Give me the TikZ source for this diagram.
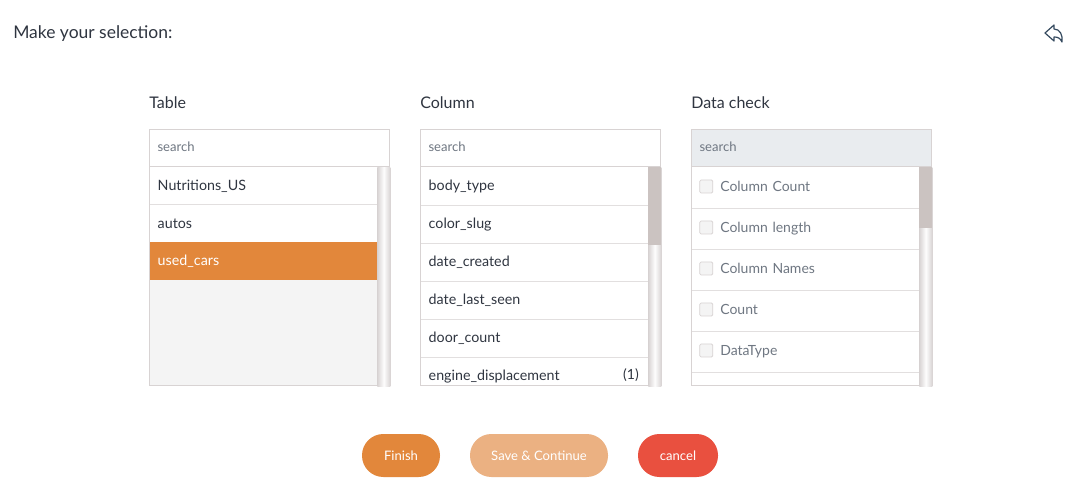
\documentclass[tikz,border=0pt]{standalone}
\usepackage{fontspec}
\setmainfont{Lato}
\usetikzlibrary{positioning}
\usetikzlibrary{shapes}
\definecolor{btnorange}{HTML}{E2873B}
\definecolor{btnpale}{HTML}{EBB182}
\definecolor{btnred}{HTML}{E9503F}
\definecolor{boxline}{HTML}{D8D3D3}
\definecolor{rowline}{HTML}{E2DFDF}
\definecolor{emptygrey}{HTML}{F4F4F4}
\definecolor{disabledgrey}{HTML}{E9ECEF}
\definecolor{thumbgrey}{HTML}{CBC3C1}
\definecolor{inktext}{HTML}{2F3540}
\definecolor{mutetext}{HTML}{6F7782}
\definecolor{iconblue}{HTML}{34495E}
\tikzset{
  heading/.style={anchor=base west, inner sep=0pt, font=\fontsize{12pt}{14pt}\selectfont, text=inktext},
  searchbox/.style={draw=boxline, line width=.75pt, anchor=north west, minimum width=180pt, minimum height=27.75pt, inner sep=0pt, inner xsep=6pt, text width=168pt, align=left, text height=7pt, text depth=2pt, font=\fontsize{9.8pt}{11pt}\selectfont, text=mutetext},
  listbox/.style={draw=boxline, line width=.75pt, anchor=north west, minimum width=180pt, minimum height=164.25pt, inner sep=0pt},
  listrow/.style={anchor=north west, minimum width=170.25pt, minimum height=28.5pt, inner sep=0pt, inner xsep=5.6pt, text width=159.05pt, align=left, text height=8.7pt, text depth=2pt, font=\fontsize{10.7pt}{12pt}\selectfont, text=inktext},
  checkrow/.style={listrow, minimum height=30.75pt, text height=8.5pt, text=mutetext, inner xsep=21pt, text width=128.25pt, font=\fontsize{10.5pt}{12pt}\selectfont},
  checkbox/.style={draw=boxline, fill=emptygrey, rounded corners=1pt, line width=.6pt, minimum size=9.75pt, inner sep=0pt},
  rowsep/.style={draw=rowline, line width=.75pt},
  scrolltrack/.style={anchor=north west, minimum width=9.75pt, minimum height=164.25pt, inner sep=0pt, left color=boxline, right color=boxline, middle color=white!95!boxline},
  scrollthumb/.style={anchor=north west, fill=thumbgrey, minimum width=9.75pt, inner sep=0pt},
  pillbtn/.style={rounded corners=16pt, minimum height=32.25pt, inner sep=0pt, text=white, font=\fontsize{9.8pt}{11pt}\selectfont},
}
\begin{document}
\begin{tikzpicture}[x=.75pt, y=-.75pt]
\useasboundingbox[fill=white] (0,0) rectangle (1073,498);
\node[heading, font=\fontsize{13.1pt}{15pt}\selectfont] (title) at (13,39) {Make your selection:};
% back icon
\draw[iconblue, line width=.9pt, line join=round] (1045,33) -- (1054,25) -- (1054,29) .. controls (1060,29) and (1063,35) .. (1062,42) .. controls (1060,38) and (1058,37) .. (1054,37) -- (1054,41) -- cycle;
% table list
\node[heading] (TableHead) at (149,108.7) {Table};
\node[searchbox] (TableSearch) at (149,129.5) {search};
\node[listbox, fill=emptygrey] (TableList) at (149,166.5) {};
\node[listrow, fill=white, minimum height=28pt] (TableA) at (150,167) {Nutritions\_US};
\node[listrow, fill=white, minimum height=27.75pt] (TableB) at (150,205) {autos};
\node[listrow, fill=btnorange, text=white] (TableC) at (150,242) {used\_cars};
\draw[rowsep] (TableA.south west) -- (TableA.south east);
\node[scrolltrack] (TableTrack) at (377,167) {};
% column list
\node[heading] (ColHead) at (420,108.7) {Column};
\node[searchbox] (ColSearch) at (420,129.5) {search};
\node[listbox, fill=white] (ColList) at (420,166.5) {};
\node[listrow] (ColA) at (421,166.5) {body\_type};
\node[listrow] (ColB) at (421,204.5) {color\_slug};
\node[listrow] (ColC) at (421,242.5) {date\_created};
\node[listrow] (ColD) at (421,280.5) {date\_last\_seen};
\node[listrow] (ColE) at (421,318.5) {door\_count};
\node[listrow] (ColF) at (421,356.5) {engine\_displacement};
\node[anchor=east, inner sep=0pt, font=\fontsize{10.5pt}{12pt}\selectfont, text=inktext] (ColCount) at (639,375) {(1)};
\draw[rowsep] (ColA.south west) -- (ColA.south east);
\draw[rowsep] (ColB.south west) -- (ColB.south east);
\draw[rowsep] (ColC.south west) -- (ColC.south east);
\draw[rowsep] (ColD.south west) -- (ColD.south east);
\draw[rowsep] (ColE.south west) -- (ColE.south east);
\node[scrolltrack] (ColTrack) at (648,167) {};
\node[scrollthumb, minimum height=58.5pt] (ColThumb) at (648,167) {};
% data check list
\node[heading] (CheckHead) at (691,108.7) {Data check};
\node[searchbox, fill=disabledgrey] (CheckSearch) at (691,129.5) {search};
\node[listbox, fill=white] (CheckList) at (691,166.5) {};
\node[checkrow] (CheckA) at (692,166.5) {Column Count};
\node[checkrow] (CheckB) at (692,207.5) {Column length};
\node[checkrow] (CheckC) at (692,248.5) {Column Names};
\node[checkrow] (CheckD) at (692,289.5) {Count};
\node[checkrow] (CheckE) at (692,330.5) {DataType};
\node[checkbox] (BoxA) at (706.3,186.5) {};
\node[checkbox] (BoxB) at (706.3,227.5) {};
\node[checkbox] (BoxC) at (706.3,268.5) {};
\node[checkbox] (BoxD) at (706.3,309.5) {};
\node[checkbox] (BoxE) at (706.3,350.5) {};
\draw[rowsep] (CheckA.south west) -- (CheckA.south east);
\draw[rowsep] (CheckB.south west) -- (CheckB.south east);
\draw[rowsep] (CheckC.south west) -- (CheckC.south east);
\draw[rowsep] (CheckD.south west) -- (CheckD.south east);
\draw[rowsep] (CheckE.south west) -- (CheckE.south east);
\node[scrolltrack] (CheckTrack) at (919,167) {};
\node[scrollthumb, minimum height=45.75pt] (CheckThumb) at (919,167) {};
% buttons
\node[pillbtn, fill=btnorange, minimum width=58.5pt] (Finish) at (401,455.5) {Finish};
\node[pillbtn, fill=btnpale, minimum width=103.5pt] (SaveCont) at (539,455.5) {Save \& Continue};
\node[pillbtn, fill=btnred, minimum width=60pt] (Cancel) at (678,455.5) {cancel};
\end{tikzpicture}
\end{document}
